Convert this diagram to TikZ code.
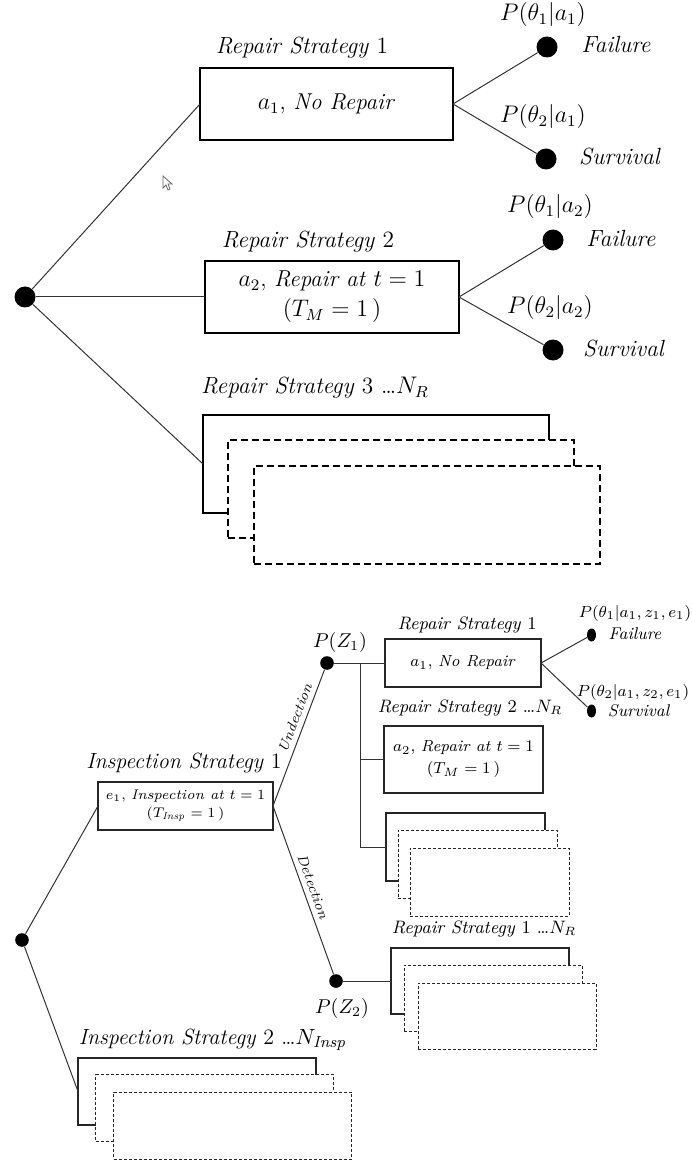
\documentclass[tikz,border=0pt]{standalone}
\usetikzlibrary{shapes.geometric}
\begin{document}
\begin{tikzpicture}[x=0.5pt,y=-0.5pt,
  bigbox/.style={draw, line width=1pt, fill=white, inner sep=0pt, outer sep=0pt, align=center, font=\fontsize{11.5}{14}\selectfont},
  bigdash/.style={bigbox, dash pattern=on 3.5pt off 2pt},
  smbox/.style={draw=black!85, line width=0.6pt, fill=white, inner sep=0pt, outer sep=0pt, align=center, font=\fontsize{8}{10}\selectfont},
  smdash/.style={smbox, dash pattern=on 1.5pt off 1pt, line width=0.5pt},
  bigdot/.style={circle, fill=black, inner sep=0pt, minimum size=10.5pt},
  middot/.style={circle, fill=black, inner sep=0pt, minimum size=6.8pt},
  smdot/.style={ellipse, fill=black, inner sep=0pt, minimum width=4.5pt, minimum height=6.5pt},
  lbig/.style={font=\fontsize{11.7}{13}\selectfont, inner sep=0pt},
  lins/.style={font=\fontsize{11}{13}\selectfont, inner sep=0pt},
  lmid/.style={font=\fontsize{9}{11}\selectfont, inner sep=0pt},
  lsm/.style={font=\fontsize{8.5}{10}\selectfont, inner sep=0pt},
  lpz/.style={font=\fontsize{10}{12}\selectfont, inner sep=0pt},
  conn/.style={line width=0.5pt, draw=black!80},
  edgelab/.style={font=\fontsize{7}{8}\selectfont\itshape, sloped, inner sep=2.5pt}
]
\useasboundingbox (0,0) rectangle (691,1160);

% ---------------- top tree ----------------
\node[bigdot] (root) at (25,297) {};

\node[lbig] (rs1l) at (302,48) {\textit{Repair Strategy} 1};
\node[bigbox, minimum width=126.5pt, minimum height=36pt] (b1) at (326.5,104) {$a_1$, \textit{No Repair}};
\node[lbig] (pf1) at (543,15) {$P(\theta_1|a_1)$};
\node[bigdot] (f1) at (547,47) {};
\node[lbig] (fl1) at (616,45) {\textit{Failure}};
\node[lbig] (ps1) at (543,117) {$P(\theta_2|a_1)$};
\node[bigdot] (s1) at (546,159) {};
\node[lbig] (sl1) at (620,157) {\textit{Survival}};

\node[lbig] (rs2l) at (308,242) {\textit{Repair Strategy} 2};
\node[bigbox, minimum width=127pt, minimum height=36pt] (b2) at (332,297) {$a_2$, \textit{Repair at} $t=1$\\[1pt] $(T_M=1\,)$};
\node[lbig] (pf2) at (550,207) {$P(\theta_1|a_2)$};
\node[bigdot] (f2) at (553,240) {};
\node[lbig] (fl2) at (621,238) {\textit{Failure}};
\node[lbig] (ps2) at (550,308) {$P(\theta_2|a_2)$};
\node[bigdot] (s2) at (553,350) {};
\node[lbig] (sl2) at (624,349) {\textit{Survival}};

\node[lbig] (rs3l) at (315,388) {\textit{Repair Strategy} 3 \textellipsis$N_R$};
\node[bigbox, minimum width=173pt, minimum height=49pt] (t1) at (376,464) {};
\node[bigdash, minimum width=173pt, minimum height=49pt] (t2) at (401,489) {};
\node[bigdash, minimum width=173pt, minimum height=49pt] (t3) at (427,514.5) {};

\draw[conn] (root) -- (b1.west);
\draw[conn] (root) -- (b2.west);
\draw[conn] (root) -- (t1.west);
\draw[conn] (b1.east) -- (f1);
\draw[conn] (b1.east) -- (s1);
\draw[conn] (b2.east) -- (f2);
\draw[conn] (b2.east) -- (s2);

% mouse pointer
\draw[black!60, line width=0.4pt, fill=white] (163,176) -- (163,188) -- (166,185) -- (168,190) -- (170,189) -- (168,184) -- (172,184) -- cycle;

% ---------------- bottom tree ----------------
\node[middot] (lroot) at (22,940) {};

\node[lins] (insl) at (184,763) {\textit{Inspection Strategy} 1};
\node[smbox, minimum width=87.5pt, minimum height=24pt, font=\fontsize{7}{8.5}\selectfont] (insp) at (185.5,806) {$e_1$, \textit{Inspection at} $t=1$\\[0.5pt] $(T_{\mathit{Insp}}=1\,)$};

\node[middot] (z1) at (327,663) {};
\node[lpz] (pz1) at (340,642) {$P(Z_1)$};
\node[middot] (z2) at (336,981) {};
\node[lpz] (pz2) at (342,1008) {$P(Z_2)$};

\node[lmid] (lrs1) at (467,625) {\textit{Repair Strategy} 1};
\node[smbox, minimum width=78pt, minimum height=24pt] (rb1) at (463,663) {$a_1$, \textit{No Repair}};
\node[lsm] (lpf) at (635,613) {$P(\theta_1|a_1,z_1,e_1)$};
\node[smdot] (lf) at (591.5,635) {};
\node[lsm] (lfl) at (635,634) {\textit{Failure}};
\node[lsm] (lps) at (633,692) {$P(\theta_2|a_1,z_2,e_1)$};
\node[smdot] (ls) at (591.5,711) {};
\node[lsm] (lsl) at (639,711) {\textit{Survival}};

\node[lmid] (lrs2) at (470,708) {\textit{Repair Strategy} 2 \textellipsis$N_R$};
\node[smbox, minimum width=79.5pt, minimum height=33.5pt] (rb2) at (463.5,759.5) {$a_2$, \textit{Repair at} $t=1$\\[1pt] $(T_M=1\,)$};

\node[smbox, minimum width=79.5pt, minimum height=34pt] (m1) at (465.5,847) {};
\node[smdash, minimum width=79.5pt, minimum height=34pt] (m2) at (477.5,864) {};
\node[smdash, minimum width=79.5pt, minimum height=34pt] (m3) at (489.5,882) {};

\node[lmid] (lrs3) at (484,929) {\textit{Repair Strategy} 1 \textellipsis$N_R$};
\node[smbox, minimum width=89pt, minimum height=33pt] (q1) at (480,981) {};
\node[smdash, minimum width=89pt, minimum height=33pt] (q2) at (493,998) {};
\node[smdash, minimum width=89pt, minimum height=33pt] (q3) at (507,1016) {};

\node[lins] (insl2) at (213,1040) {\textit{Inspection Strategy} 2 \textellipsis$N_{\mathit{Insp}}$};
\node[smbox, minimum width=119pt, minimum height=33.5pt] (k1) at (197,1091.5) {};
\node[smdash, minimum width=119pt, minimum height=33.5pt] (k2) at (214.5,1108) {};
\node[smdash, minimum width=119pt, minimum height=33.5pt] (k3) at (232.5,1125.5) {};

\coordinate (bt) at (360,663);
\coordinate (bm) at (360,759.5);
\coordinate (bb) at (360,847);

\draw[conn] (lroot) -- (insp.west);
\draw[conn] (lroot) -- (k1.west);
\draw[conn] (insp.east) -- node[edgelab, pos=0.62, above] {Undection} (z1);
\draw[conn] (insp.east) -- node[edgelab, pos=0.5, above] {Detection} (z2);
\draw[conn] (z1) -- (rb1.west);
\draw[conn] (bt) -- (bb);
\draw[conn] (bm) -- (rb2.west);
\draw[conn] (bb) -- (m1.west);
\draw[conn] (z2) -- (q1.west);
\draw[conn] (rb1.east) -- (lf);
\draw[conn] (rb1.east) -- (ls);
\end{tikzpicture}
\end{document}
